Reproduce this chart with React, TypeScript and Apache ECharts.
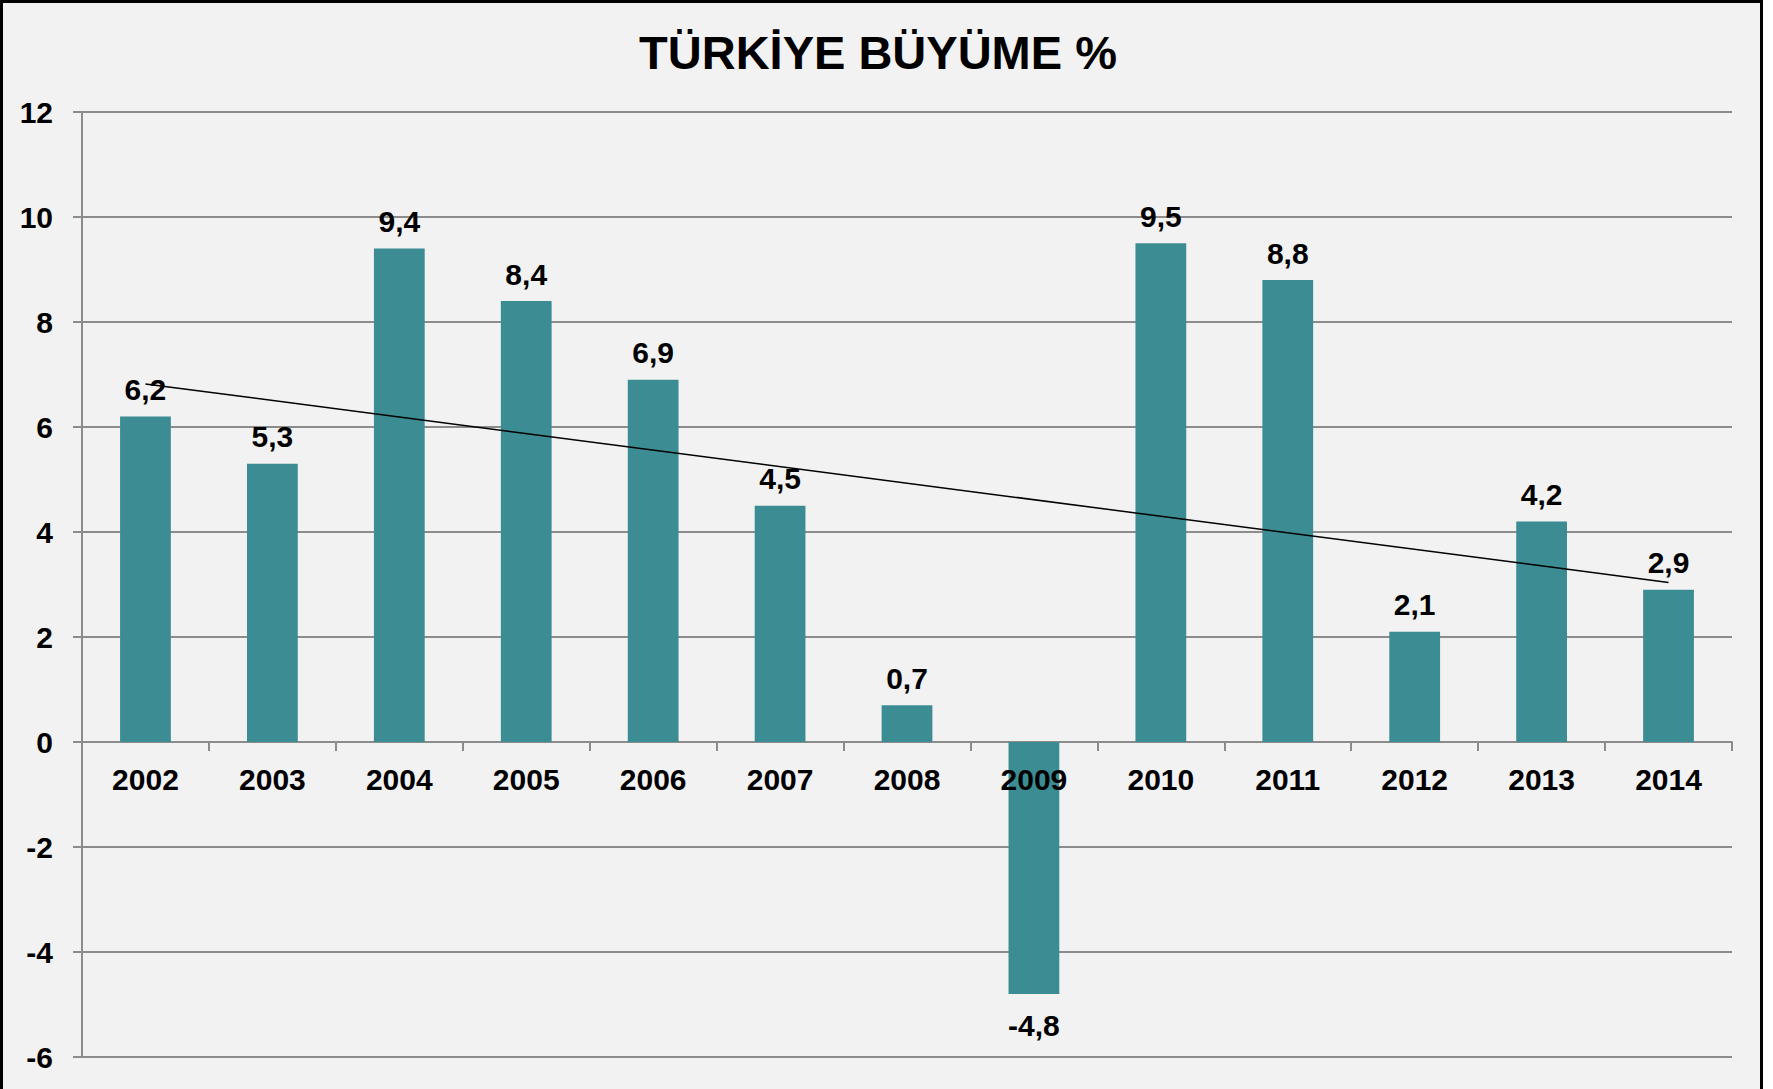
import React, { useEffect, useRef } from "react";
import * as echarts from "echarts";

const categories = ["2002", "2003", "2004", "2005", "2006", "2007", "2008", "2009", "2010", "2011", "2012", "2013", "2014"];
const growth = [6.2, 5.3, 9.4, 8.4, 6.9, 4.5, 0.7, -4.8, 9.5, 8.8, 2.1, 4.2, 2.9];
const trendPoints: [number, number][] = [[0, 6.82], [12, 3.04]];
const yTicks = { min: -6, max: 12, interval: 2 };

const FONT = 'Arial, "Liberation Sans", Helvetica, sans-serif';
const GRID_COLOR = "#8c8c8c";

export default function App() {
  const ref = useRef<HTMLDivElement>(null);
  useEffect(() => {
    document.body.style.margin = "0";
    const chart = echarts.init(ref.current!, null, { renderer: "svg" });
    chart.setOption({
      animation: false,
      backgroundColor: "#ffffff",
      graphic: [
        {
          type: "rect",
          z: -10,
          silent: true,
          shape: { x: 1.5, y: 1.5, width: 1760, height: 1110 },
          style: { fill: "#F2F2F2", stroke: "#000000", lineWidth: 3 },
        },
      ],
      title: {
        text: "TÜRKİYE BÜYÜME %",
        left: 873,
        textAlign: "center",
        top: 24,
        textStyle: { fontFamily: FONT, fontSize: 47, fontWeight: "bold", color: "#000" },
      },
      grid: [
        { left: 82, right: 41, top: 112, bottom: 32, containLabel: false, outerBoundsMode: "none" },
        { left: 82, right: 41, top: 112, bottom: 347, containLabel: false, outerBoundsMode: "none" },
      ],
      xAxis: [
        {
          type: "category",
          gridIndex: 0,
          data: categories,
          axisLine: { show: true, onZero: true, lineStyle: { color: GRID_COLOR, width: 2 } },
          axisTick: { show: true, length: 9, interval: 0, alignWithLabel: false, lineStyle: { color: GRID_COLOR, width: 2 } },
          axisLabel: { show: false },
          splitLine: { show: false },
        },
        {
          type: "category",
          gridIndex: 1,
          z: 10,
          data: categories,
          axisLine: { show: false },
          axisTick: { show: false },
          axisLabel: { margin: 22, fontFamily: FONT, fontSize: 30, fontWeight: "bold", color: "#000", interval: 0 },
          splitLine: { show: false },
        },
      ],
      yAxis: [
        {
          type: "value",
          gridIndex: 0,
          min: yTicks.min,
          max: yTicks.max,
          interval: yTicks.interval,
          axisLine: { show: true, lineStyle: { color: GRID_COLOR, width: 2 } },
          axisTick: { show: true, length: 9, lineStyle: { color: GRID_COLOR, width: 2 } },
          axisLabel: { margin: 29, fontFamily: FONT, fontSize: 30, fontWeight: "bold", color: "#000" },
          splitLine: { show: true, lineStyle: { color: GRID_COLOR, width: 2 } },
        },
        {
          type: "value",
          gridIndex: 1,
          min: 0,
          max: 1,
          show: false,
        },
      ],
      series: [
        {
          type: "bar",
          xAxisIndex: 0,
          yAxisIndex: 0,
          barWidth: "40%",
          itemStyle: { color: "#3C8C93" },
          data: growth.map((v) => ({
            value: v,
            label: { position: v < 0 ? "bottom" : "top", distance: v < 0 ? 16 : 12 },
          })),
          label: {
            show: true,
            fontFamily: FONT,
            fontSize: 30,
            fontWeight: "bold",
            color: "#000",
            formatter: (p: any) => String(p.value).replace(".", ","),
          },
          z: 2,
        },
        {
          type: "line",
          xAxisIndex: 0,
          yAxisIndex: 0,
          data: trendPoints,
          symbol: "none",
          lineStyle: { color: "#000", width: 1.5 },
          label: { show: false },
          z: 5,
        },
      ],
    });
    return () => chart.dispose();
  }, []);
  return <div ref={ref} style={{ width: 1773, height: 1089 }} />;
}
